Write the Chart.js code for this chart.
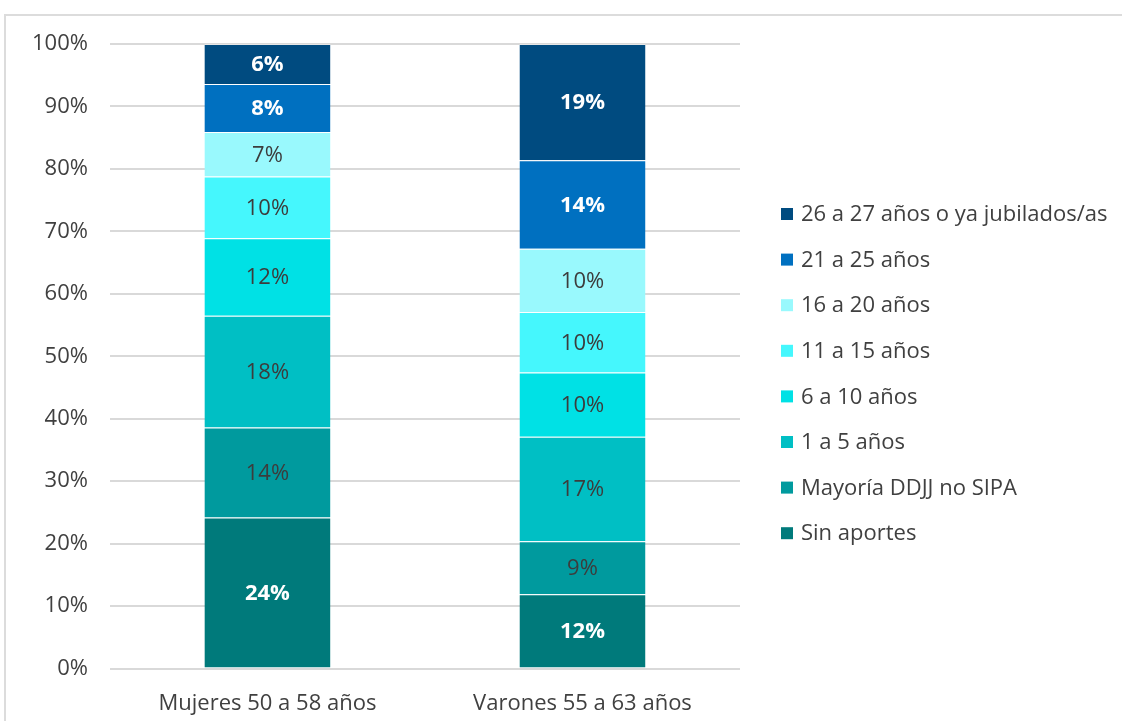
<!DOCTYPE html>
<html lang="es">
<head>
<meta charset="utf-8">
<title>Años de aportes</title>
<script src="https://cdn.jsdelivr.net/npm/chart.js@4.4.1/dist/chart.umd.min.js"></script>
<style>
    html, body { margin: 0; padding: 0; background: #fff; }
    body { width: 1122px; height: 721px; position: relative; overflow: hidden; font-family: 'Open Sans', sans-serif; }
    .frame {
        position: absolute; left: 4px; top: 14px; width: 1200px; height: 800px;
        border-top: 2px solid #dcdcdc; border-left: 2px solid #dcdcdc;
    }
    #chart { position: absolute; left: 0; top: 0; }
</style>
</head>
<body>
<div class="frame"></div>
<canvas id="chart" width="1122" height="721"></canvas>
<script>
// datos
const categories = ['Mujeres 50 a 58 años', 'Varones 55 a 63 años'];
const seriesNames = [
    'Sin aportes',
    'Mayoría DDJJ no SIPA',
    '1 a 5 años',
    '6 a 10 años',
    '11 a 15 años',
    '16 a 20 años',
    '21 a 25 años',
    '26 a 27 años o ya jubilados/as'
];
const sinAportes = [24.2, 11.9];
const mayoriaDdjj = [14.4, 8.5];
const uno5 = [17.9, 16.7];
const seis10 = [12.4, 10.3];
const once15 = [9.9, 9.7];
const dieciseis20 = [7.1, 10.1];
const veintiuno25 = [7.7, 14.2];
const veintiseis27 = [6.4, 18.6];
const yTicks = [0, 10, 20, 30, 40, 50, 60, 70, 80, 90, 100];

// estilos
const colors = ['#007a7b', '#009a9e', '#00bfc4', '#00e1e5', '#45f7fd', '#99f9fd', '#0070c0', '#004b80'];
const boldWhite = [true, false, false, false, false, false, true, true];
const FONT = "'Open Sans', 'Noto Sans', sans-serif";
const TEXT = '#404040';

const allValues = [sinAportes, mayoriaDdjj, uno5, seis10, once15, dieciseis20, veintiuno25, veintiseis27];

const datasets = allValues.map((vals, i) => ({
    label: seriesNames[i],
    data: vals,
    backgroundColor: colors[i],
    borderColor: 'rgba(255,255,255,0.35)',
    borderWidth: { top: 1, bottom: 0, left: 0, right: 0 },
    borderSkipped: false,
    barPercentage: 0.4,
    categoryPercentage: 1
}));

// etiquetas dentro de las barras
const barLabels = {
    id: 'barLabels',
    afterDatasetsDraw(chart) {
        const ctx = chart.ctx;
        ctx.save();
        ctx.textAlign = 'center';
        ctx.textBaseline = 'middle';
        chart.data.datasets.forEach((ds, i) => {
            const meta = chart.getDatasetMeta(i);
            meta.data.forEach((bar, j) => {
                const v = ds.data[j];
                const yMid = (bar.y + bar.base) / 2;
                if (boldWhite[i]) {
                    ctx.font = 'bold 22px ' + FONT;
                    ctx.fillStyle = '#ffffff';
                } else {
                    ctx.font = '22px ' + FONT;
                    ctx.fillStyle = '#3c3c3c';
                }
                ctx.fillText(Math.round(v) + '%', bar.x, yMid + 1);
            });
        });
        ctx.restore();
    }
};

// leyenda a la derecha (orden inverso)
const sideLegend = {
    id: 'sideLegend',
    afterDraw(chart) {
        const ctx = chart.ctx;
        const area = chart.chartArea;
        const x0 = area.right + 41;
        const y0 = area.top + 170;
        const step = 45.6;
        ctx.save();
        ctx.font = '22px ' + FONT;
        ctx.textBaseline = 'middle';
        ctx.textAlign = 'left';
        const n = chart.data.datasets.length;
        chart.data.datasets.forEach((ds, i) => {
            const k = n - 1 - i;
            const y = y0 + k * step;
            ctx.fillStyle = ds.backgroundColor;
            ctx.fillRect(x0, y - 6, 12, 12);
            ctx.fillStyle = TEXT;
            ctx.fillText(ds.label, x0 + 20, y + 1);
        });
        ctx.restore();
    }
};

Chart.defaults.font.family = FONT;
Chart.defaults.color = TEXT;

function draw() {
    new Chart(document.getElementById('chart'), {
        type: 'bar',
        data: { labels: categories, datasets: datasets },
        options: {
            responsive: false,
            animation: false,
            maintainAspectRatio: false,
            layout: { padding: { top: 44, left: 10, right: 382, bottom: -10 } },
            plugins: {
                legend: { display: false },
                tooltip: { enabled: false }
            },
            scales: {
                x: {
                    stacked: true,
                    grid: { display: false },
                    border: { display: false },
                    ticks: { font: { size: 22 }, color: TEXT, padding: 14 }
                },
                y: {
                    stacked: true,
                    min: 0,
                    max: 100,
                    afterBuildTicks(axis) {
                        axis.ticks = yTicks.map(v => ({ value: v }));
                    },
                    grid: { color: '#d9d9d9', lineWidth: 2, drawTicks: false },
                    border: { display: false },
                    ticks: {
                        font: { size: 22 },
                        color: TEXT,
                        padding: 22,
                        callback: v => v + '%'
                    }
                }
            }
        },
        plugins: [barLabels, sideLegend]
    });
}

Promise.all([
    document.fonts.load('22px "Open Sans"'),
    document.fonts.load('bold 22px "Open Sans"')
]).then(draw, draw);
</script>
</body>
</html>
